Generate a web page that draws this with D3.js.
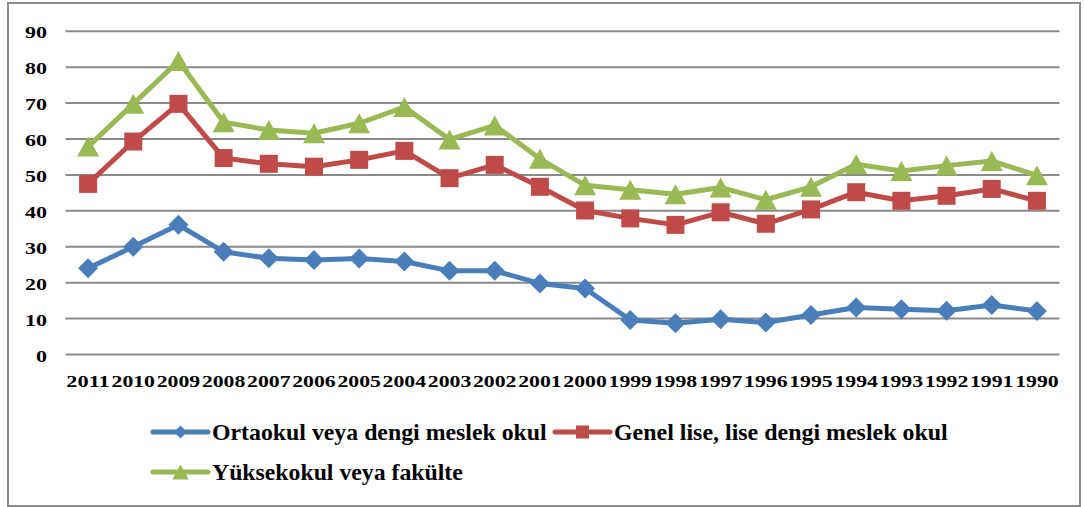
<!DOCTYPE html>
<html>
<head>
<meta charset="utf-8">
<script src="https://cdn.jsdelivr.net/npm/d3@7"></script>
<style>
  body { margin: 0; background: #fff; }
</style>
</head>
<body>
<div id="chart"></div>
<script>
// Data
var years = ["2011","2010","2009","2008","2007","2006","2005","2004","2003","2002","2001",
             "2000","1999","1998","1997","1996","1995","1994","1993","1992","1991","1990"];
var ortaokul   = [24.0,30.0,36.1,28.6,26.8,26.3,26.7,25.9,23.3,23.3,19.8,18.4,9.6,8.7,9.8,8.9,11.0,13.1,12.6,12.2,13.8,12.1];
var genelLise  = [47.5,59.3,69.8,54.7,53.1,52.3,54.2,56.7,49.1,52.8,46.7,40.1,37.9,36.1,39.6,36.4,40.4,45.2,42.8,44.2,46.1,42.8];
var yuksekokul = [57.9,69.8,81.7,64.7,62.5,61.6,64.4,68.9,59.9,63.8,54.5,47.1,45.9,44.6,46.5,43.1,46.7,53.0,51.1,52.6,53.9,49.9];
var yTicks = [0,10,20,30,40,50,60,70,80,90];
var seriesNames = ["Ortaokul veya dengi meslek okul", "Genel lise, lise dengi meslek okul", "Yüksekokul veya fakülte"];

var W = 1084, H = 507;
var plot = {left: 65.5, right: 1059.5, top: 31.3, bottom: 354.5};

var svg = d3.select("#chart").append("svg")
    .attr("width", W)
    .attr("height", H);

// stretched serif text (the original picture is widened), drawn at x,y with a target width
function stretchText(parent, x, y, str, size, targetW, anchor) {
  var g = parent.append("g");
  var t = g.append("text")
      .attr("font-family", "Liberation Serif")
      .attr("font-weight", "bold")
      .attr("font-size", size)
      .text(str);
  var natural = t.node().getComputedTextLength();
  var sx = targetW / natural;
  var x0 = anchor === "end" ? x - targetW : anchor === "middle" ? x - targetW / 2 : x;
  g.attr("transform", "translate(" + x0 + "," + y + ") scale(" + sx + ",1)");
  return g;
}

// outer frame
svg.append("rect")
    .attr("x", 8).attr("y", 3)
    .attr("width", 1072).attr("height", 503)
    .attr("fill", "none")
    .attr("stroke", "#8a8a8a")
    .attr("stroke-width", 2);

var band = (plot.right - plot.left) / years.length;
var xScale = d3.scalePoint()
    .domain(years)
    .range([plot.left + band / 2, plot.right - band / 2]);

var yScale = d3.scaleLinear()
    .domain([0, 90])
    .range([plot.bottom, plot.top]);

// gridlines
svg.append("g").selectAll("line")
    .data(yTicks)
  .enter().append("line")
    .attr("x1", plot.left).attr("x2", plot.right)
    .attr("y1", function(d) { return yScale(d); })
    .attr("y2", function(d) { return yScale(d); })
    .attr("stroke", "#8a8a8a")
    .attr("stroke-width", 2);

// y labels
var yAxisG = svg.append("g");
yTicks.forEach(function(d) {
  stretchText(yAxisG, 47, yScale(d) + 7, String(d), 17.5, String(d).length * 11, "end");
});

// x labels
var xAxisG = svg.append("g");
years.forEach(function(d) {
  stretchText(xAxisG, xScale(d), 387, d, 17.5, 43.5, "middle");
});

// marker shapes
function markerPath(kind, s) {
  if (kind === "diamond") return "M0," + (-s) + "L" + s + ",0L0," + s + "L" + (-s) + ",0Z";
  if (kind === "square") return "M" + (-s) + "," + (-s) + "H" + s + "V" + s + "H" + (-s) + "Z";
  return "M0," + (-s) + "L" + (s * 1.1) + "," + s + "L" + (-s * 1.1) + "," + s + "Z";
}

var series = [
  {name: seriesNames[0], values: ortaokul,   color: "#4A7EBB", marker: "diamond", size: 10},
  {name: seriesNames[1], values: genelLise,  color: "#BE4B48", marker: "square",  size: 9},
  {name: seriesNames[2], values: yuksekokul, color: "#98B954", marker: "triangle", size: 10}
];

var line = d3.line()
    .x(function(d, i) { return xScale(years[i]); })
    .y(function(d) { return yScale(d); });

series.forEach(function(s) {
  var g = svg.append("g");
  g.append("path")
      .datum(s.values)
      .attr("d", line)
      .attr("fill", "none")
      .attr("stroke", s.color)
      .attr("stroke-width", 5)
      .attr("stroke-linejoin", "round");
  g.selectAll("path.pt")
      .data(s.values)
    .enter().append("path")
      .attr("class", "pt")
      .attr("d", markerPath(s.marker, s.size))
      .attr("transform", function(d, i) { return "translate(" + xScale(years[i]) + "," + yScale(d) + ")"; })
      .attr("fill", s.color);
});

// legend
var legendItems = [
  {x: 153, y: 432, textW: 335, s: series[0], ls: 6.5},
  {x: 555, y: 432, textW: 334, s: series[1], ls: 6.5},
  {x: 153, y: 472, textW: 251, s: series[2], ls: 7.5}
];
legendItems.forEach(function(l) {
  var g = svg.append("g").attr("transform", "translate(" + l.x + "," + l.y + ")");
  g.append("line")
      .attr("x1", 0).attr("x2", 55)
      .attr("stroke", l.s.color)
      .attr("stroke-width", 5)
      .attr("stroke-linecap", "round");
  g.append("path")
      .attr("d", markerPath(l.s.marker, l.ls))
      .attr("transform", "translate(27.5,0)")
      .attr("fill", l.s.color);
  stretchText(g, 59, 7.5, l.s.name, 22.5, l.textW, "start");
});
</script>
</body>
</html>
